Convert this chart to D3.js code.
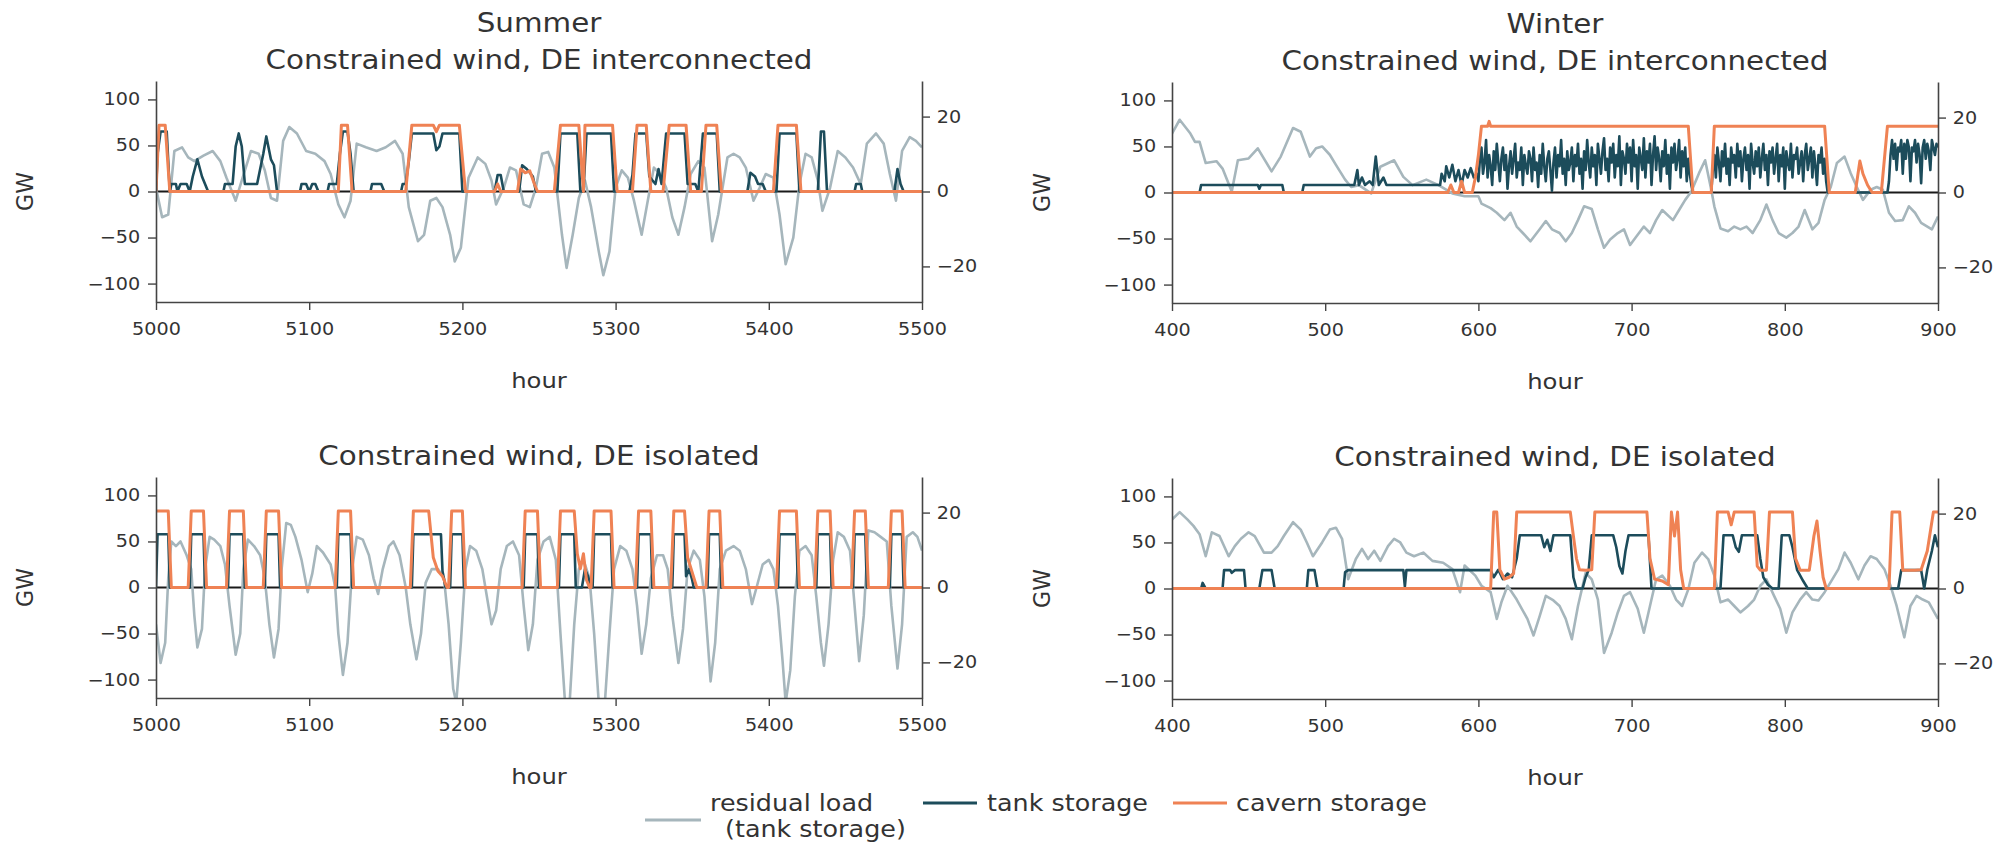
<!DOCTYPE html>
<html>
<head>
<meta charset="utf-8">
<script src="https://cdn.jsdelivr.net/npm/d3@7"></script>
<style>
  body { margin: 0; background: #fff; }
  svg text { font-family: "DejaVu Sans", Verdana, sans-serif; fill: #333; }
</style>
</head>
<body>
<svg id="chart" width="2013" height="850"></svg>
<script>
// axis ranges and ticks
const summerRange = [5000, 5500];
const winterRange = [400, 900];
const summerTicks = [5000, 5100, 5200, 5300, 5400, 5500];
const winterTicks = [400, 500, 600, 700, 800, 900];
const gwRange = [-120, 120];
const gwTicks = [-100, -50, 0, 50, 100];
const rightRange = [-29.5, 29.5];
const rightTicks = [-20, 0, 20];

const legendNames = ['residual load', '(tank storage)', 'tank storage', 'cavern storage'];

// Summer, interconnected  [hour, value]
const sumConResidual = [
  [5000,4],[5004,-28],[5008,-25],[5012,44],[5017,48],[5021,37],[5025,33],[5031,39],[5037,44],[5042,33],
  [5046,15],[5052,-10],[5056,12],[5062,44],[5067,41],[5071,23],[5075,-7],[5079,-10],[5083,55],[5087,70],
  [5092,63],[5098,44],[5104,41],[5110,33],[5114,19],[5119,-14],[5123,-28],[5127,-10],[5131,52],[5137,48],
  [5144,44],[5150,48],[5156,55],[5161,41],[5165,-17],[5171,-54],[5175,-47],[5179,-10],[5183,-7],[5187,-17],
  [5192,-47],[5195,-76],[5199,-61],[5204,15],[5210,37],[5215,30],[5219,12],[5222,-14],[5227,4],[5231,26],
  [5235,23],[5240,-14],[5244,-17],[5248,4],[5252,41],[5256,43],[5260,26],[5265,-47],[5268,-83],[5272,-47],
  [5276,-7],[5280,12],[5284,-17],[5289,-65],[5292,-91],[5296,-65],[5300,4],[5304,23],[5308,15],[5312,-10],
  [5317,-47],[5321,-10],[5325,26],[5329,19],[5333,4],[5337,-28],[5341,-47],[5345,-17],[5349,19],[5354,33],
  [5358,26],[5363,-54],[5367,-25],[5373,37],[5377,41],[5381,37],[5385,26],[5390,-10],[5394,4],[5398,19],
  [5403,15],[5407,-25],[5411,-79],[5416,-50],[5420,8],[5424,41],[5428,37],[5432,12],[5435,-21],[5440,4],
  [5445,44],[5450,37],[5455,26],[5460,8],[5464,52],[5470,63],[5475,52],[5479,19],[5483,-10],[5487,44],
  [5492,59],[5496,55],[5500,48]
];
const sumConTank = [
  [5000,0],[5001,10],[5003,16],[5007,16],[5009,0],[5010,2],[5013,2],[5014,0],[5016,2],[5020,2],[5022,0],
  [5024,4],[5027,8.6],[5030,4],[5032,2],[5034,0],[5044,0],[5045,2],[5050,2],[5052,12],[5054,15.5],[5056,12],
  [5058,2],[5066,2],[5070,10],[5072,14.7],[5075,8.6],[5077,7],[5079,0],[5094,0],[5095,2],[5098,2],[5100,0],
  [5102,2],[5104,2],[5106,0],[5112,0],[5113,2],[5118,2],[5120,10],[5122,16],[5125,16],[5127,10],[5129,0],
  [5140,0],[5141,2],[5147,2],[5149,0],[5160,0],[5161,2],[5163,2],[5165,8],[5167,15.5],[5181,15.5],[5183,11],
  [5185,12],[5187,15.5],[5198,15.5],[5200,0],[5221,0],[5223,4.4],[5225,4.4],[5227,0],[5237,0],[5239,7],
  [5242,6],[5246,4],[5248,0],[5262,0],[5264,15.5],[5275,15.5],[5277,0],[5279,0],[5281,15.5],[5297,15.5],
  [5299,0],[5309,0],[5311,4.4],[5313,15.5],[5320,15.5],[5322,4],[5326,2],[5328,6],[5330,2],[5333,15.5],
  [5345,15.5],[5347,2],[5352,2],[5354,0],[5357,15.5],[5366,15.5],[5368,0],[5386,0],[5388,5],[5391,4],
  [5393,2],[5396,2],[5398,0],[5405,0],[5407,15.5],[5418,15.5],[5420,0],[5432,0],[5434,16],[5436,16],
  [5438,0],[5456,0],[5457,2],[5460,2],[5461,0],[5482,0],[5484,6],[5486,2],[5488,0],[5500,0]
];
const sumConCavern = [
  [5000,0],[5002,17.7],[5006,17.7],[5009,0],[5119,0],[5121,17.7],[5125,17.7],[5128,0],[5163,0],[5167,17.7],
  [5181,17.7],[5183,16],[5185,17.7],[5198,17.7],[5202,0],[5221,0],[5223,2],[5225,0],[5236,0],[5238,6],
  [5241,5],[5244,5.5],[5247,2],[5249,0],[5260,0],[5264,17.7],[5276,17.7],[5279,0],[5280,17.7],[5298,17.7],
  [5301,0],[5311,0],[5314,17.7],[5320,17.7],[5323,0],[5331,0],[5335,17.7],[5346,17.7],[5349,0],[5356,0],
  [5359,17.7],[5366,17.7],[5369,0],[5403,0],[5406,17.7],[5418,17.7],[5421,0],[5500,0]
];

// Winter, interconnected
const winConResidual = [
  [400,64],[405,79],[412,64],[415,55],[418,55],[422,32],[429,34],[433,26],[439,1],[443,35],[450,37],
  [456,48],[465,23],[471,39],[479,70],[484,66],[490,39],[494,48],[498,50],[503,41],[507,30],[513,14],
  [517,6],[522,8],[530,-1],[536,28],[545,35],[551,17],[557,8],[566,14],[574,8],[583,-1],[591,-4],[600,-4],
  [602,-12],[608,-17],[612,-22],[617,-30],[621,-22],[625,-37],[629,-44],[634,-53],[640,-40],[644,-31],
  [648,-40],[653,-44],[657,-53],[661,-44],[665,-30],[669,-15],[674,-18],[678,-40],[682,-60],[686,-51],
  [691,-44],[695,-40],[699,-57],[703,-48],[708,-37],[712,-44],[716,-30],[720,-19],[727,-30],[731,-19],
  [735,-8],[739,1],[744,21],[748,35],[752,3],[754,-15],[758,-39],[763,-42],[767,-37],[771,-40],[775,-37],
  [779,-44],[784,-30],[788,-13],[792,-30],[796,-44],[801,-49],[805,-44],[809,-37],[813,-19],[818,-40],
  [822,-33],[826,-8],[830,6],[834,32],[839,39],[843,21],[847,6],[851,-8],[856,3],[860,6],[864,3],
  [868,-22],[872,-31],[877,-30],[881,-15],[885,-22],[889,-33],[896,-40],[900,-26]
];
// tank storage: quiet part as [hour, value], hourly bursts as plain values
const winConTankQuiet = [
  [400,0],[418,0],[419,2],[456,2],[457,1],[458,2],[472,2],[473,0],[485,0],[486,2],[519,2],[521,6],[522,2],
  [524,4],[526,2],[529,3],[531,2],[533,9.6],[535,2],[538,4],[540,2],[575,2],[576,5],[578,3],[579,7],[581,4],
  [583,7.4],[585,3],[587,6],[589,2],[591,6],[593,4],[595,6.5],[597,4],[599,5]
];
const winConBurst1Start = 600;
const winConBurst1 = [
  3,9,12,5,8,14,4,10,7,2,11,6,13,8,3,9,12,6,10,1,
  7,11,5,9,13,4,8,6,12,2,10,7,5,11,9,3,12,6,8,1.5,
  10,5,13,7,3,9,11,6,0.5,8,12,4,10,7,14,5,9,2,11,6,
  8,12,3,10,7,13,5,9,1,11,6,14,8,4,12,7,10,2,13,9,
  5,11,14.5,6,9,3,12,8,13,4,10,7,15,2,11,9,5,13,8,12,
  3,14,7,10,1,12,9,6,14.5,4,11,8,13,2,10,15,6,12,9,3,
  11,7,14,5,10,1,12,8,13,6,9,14,4,11,7,12,3,9,5,2,0
];
const winConBurst2Start = 752;
const winConBurst2 = [
  0,6,10,4,12,8,3,11,7,13,5,9,2,12,8,10,4,13,7,11,
  3,9,12,6,10,1,13,8,5,11,7,12,4,9,13,6,10,2,11,8,
  12,5,9,13,3,10,7,12,1,11,8,6,13,4,10,9,12,5,8,11,
  3,10,13,6,9,12,4,11,7,2,10,8,12,5,9,3,0
];
const winConBurst3Start = 867;
const winConBurst3 = [
  0,3,10,14,9,13,6,12,11,14,5,13,9,14,12,3,12,11,14,8,13,
  10,2.5,12,14,9,13,11,6,14,12,10,13,12
];
const winConCavern = [
  [400,0],[580,0],[582,2],[584,0],[587,0],[589,3],[591,0],[596,0],[598,4],[600,10],[602,17.7],[606,17.7],
  [607,19],[608,17.7],[737,17.7],[740,0],[752,0],[754,17.7],[826,17.7],[829,0],[846,0],[849,8.4],[851,5],
  [854,2],[857,0],[863,0],[867,17.7],[900,17.7]
];

// Summer, isolated
const sumIsoResidual = [
  [5000,-40],[5003,-82],[5006,-60],[5008,10],[5010,50],[5013,45],[5016,50],[5020,35],[5023,20],[5025,-30],
  [5027,-65],[5030,-45],[5032,20],[5035,55],[5038,52],[5042,45],[5045,25],[5048,-20],[5052,-73],[5055,-50],
  [5057,20],[5060,52],[5064,45],[5068,35],[5071,10],[5074,-40],[5077,-76],[5080,-45],[5082,20],[5085,70],
  [5088,68],[5091,55],[5095,30],[5099,-5],[5102,15],[5105,45],[5109,38],[5114,25],[5117,0],[5119,-50],
  [5122,-95],[5125,-60],[5128,20],[5131,55],[5135,52],[5139,35],[5142,10],[5145,-7],[5148,20],[5152,45],
  [5155,50],[5159,35],[5163,0],[5166,-40],[5170,-78],[5173,-50],[5176,5],[5180,20],[5184,20],[5188,10],
  [5191,-40],[5194,-110],[5196,-125],[5199,-60],[5202,20],[5205,45],[5209,40],[5213,20],[5216,-10],
  [5219,-40],[5222,-25],[5225,20],[5229,45],[5233,50],[5237,35],[5240,-20],[5243,-68],[5246,-40],[5249,30],
  [5253,50],[5257,55],[5261,30],[5264,-50],[5267,-125],[5270,-125],[5273,-40],[5276,20],[5279,30],
  [5283,10],[5286,-50],[5289,-125],[5293,-125],[5296,-50],[5299,20],[5303,45],[5307,40],[5311,20],
  [5314,-20],[5317,-72],[5320,-40],[5323,10],[5327,35],[5331,35],[5334,20],[5337,-30],[5341,-82],
  [5344,-45],[5347,20],[5351,40],[5355,30],[5358,-10],[5362,-102],[5365,-60],[5368,20],[5372,40],
  [5377,45],[5381,40],[5385,20],[5389,-18],[5392,0],[5396,25],[5400,30],[5403,20],[5406,-20],[5409,-80],
  [5411,-125],[5414,-90],[5417,-10],[5420,40],[5424,45],[5428,35],[5431,-10],[5434,-60],[5436,-85],
  [5439,-40],[5442,30],[5445,60],[5449,55],[5453,40],[5456,-20],[5459,-80],[5462,-30],[5465,62],[5469,60],
  [5473,55],[5477,50],[5480,-20],[5484,-88],[5487,-40],[5490,55],[5494,60],[5497,55],[5500,40]
];
const sumIsoTank = [
  [5000,0],[5001,14.2],[5008,14.2],[5009,0],[5022,0],[5023,14.2],[5031,14.2],[5032,0],[5047,0],[5048,14.2],
  [5057,14.2],[5058,0],[5071,0],[5072,14.2],[5080,14.2],[5081,0],[5118,0],[5119,14.2],[5127,14.2],[5128,0],
  [5167,0],[5168,14.2],[5186,14.2],[5187,4.4],[5189,0],[5192,0],[5193,14.2],[5200,14.2],[5201,0],
  [5240,0],[5241,14.2],[5249,14.2],[5250,0],[5263,0],[5264,14.2],[5273,14.2],[5274,0],[5278,0],[5280,4.9],
  [5282,3],[5284,0],[5285,0],[5286,14.2],[5297,14.2],[5298,0],[5314,0],[5315,14.2],[5323,14.2],[5324,0],
  [5337,0],[5338,14.2],[5345,14.2],[5346,3],[5348,4.9],[5350,2],[5351,0],[5360,0],[5361,14.2],[5368,14.2],
  [5369,0],[5406,0],[5407,14.2],[5418,14.2],[5419,0],[5431,0],[5432,14.2],[5440,14.2],[5441,0],[5455,0],
  [5456,14.2],[5463,14.2],[5464,0],[5479,0],[5480,14.2],[5487,14.2],[5488,0],[5500,0]
];
const sumIsoCavern = [
  [5000,20.4],[5008,20.4],[5010,0],[5021,0],[5023,20.4],[5031,20.4],[5033,0],[5046,0],[5048,20.4],
  [5057,20.4],[5059,0],[5070,0],[5072,20.4],[5080,20.4],[5082,0],[5117,0],[5119,20.4],[5127,20.4],
  [5129,0],[5166,0],[5168,20.4],[5178,20.4],[5181,8],[5184,4.4],[5187,3],[5190,0],[5191,0],[5193,20.4],
  [5200,20.4],[5202,0],[5239,0],[5241,20.4],[5249,20.4],[5251,0],[5262,0],[5264,20.4],[5273,20.4],
  [5275,9],[5277,5],[5279,9],[5281,2],[5283,0],[5284,0],[5286,20.4],[5297,20.4],[5299,0],[5313,0],
  [5315,20.4],[5323,20.4],[5325,0],[5336,0],[5338,20.4],[5345,20.4],[5347,8],[5350,4],[5353,0],[5359,0],
  [5361,20.4],[5368,20.4],[5370,0],[5405,0],[5407,20.4],[5418,20.4],[5420,0],[5430,0],[5432,20.4],
  [5440,20.4],[5442,0],[5454,0],[5456,20.4],[5463,20.4],[5465,0],[5478,0],[5480,20.4],[5487,20.4],
  [5489,0],[5500,0]
];

// Winter, isolated
const winIsoResidual = [
  [400,75],[405,83],[410,75],[414,68],[418,59],[422,35],[426,61],[431,57],[437,35],[441,46],[445,54],
  [450,61],[454,57],[460,39],[465,39],[469,46],[473,57],[479,72],[484,64],[488,50],[492,35],[498,50],
  [503,64],[507,66],[511,54],[515,10],[520,32],[524,43],[528,32],[532,41],[536,30],[541,46],[545,54],
  [549,50],[553,39],[558,35],[564,39],[570,30],[577,28],[583,21],[588,-4],[591,25],[598,14],[602,3],
  [608,-4],[612,-33],[615,-15],[619,3],[625,-12],[632,-33],[636,-51],[640,-30],[644,-8],[649,-13],
  [653,-19],[657,-33],[661,-55],[665,-19],[670,17],[674,10],[678,-12],[682,-70],[687,-48],[691,-26],
  [695,-8],[699,-4],[704,-22],[708,-48],[712,-19],[716,10],[720,14],[725,3],[729,-12],[733,-19],[737,-1],
  [741,28],[746,39],[750,32],[754,14],[758,-15],[763,-12],[767,-19],[771,-26],[776,-19],[780,-12],[784,3],
  [788,10],[793,-8],[797,-22],[801,-48],[805,-26],[810,-12],[814,-4],[818,-12],[822,-13],[826,-4],
  [831,10],[835,21],[839,39],[843,28],[848,10],[852,25],[856,35],[860,32],[865,21],[869,3],[873,-19],
  [878,-53],[882,-19],[886,-8],[890,-12],[894,-15],[900,-33]
];
const winIsoTank = [
  [400,0],[419,0],[420,1.5],[422,0],[433,0],[434,4.9],[438,4.9],[439,4.2],[441,4.9],[447,4.9],[448,0],
  [457,0],[459,4.9],[465,4.9],[467,0],[488,0],[489,4.9],[493,4.9],[495,0],[512,0],[513,4.4],[515,4.9],
  [551,4.9],[552,0.5],[553,4.9],[608,4.9],[610,3],[613,5],[616,2.5],[619,4],[622,3],[625,8],[627,14.2],
  [641,14.2],[643,11],[645,13],[647,10],[649,14.2],[660,14.2],[662,3],[664,0],[668,0],[670,3],[672,5],
  [674,14.2],[688,14.2],[690,11],[692,6],[694,4],[696,10],[698,14.2],[711,14.2],[713,0],[758,0],
  [760,14.2],[766,14.2],[768,11],[770,9.8],[772,14.2],[782,14.2],[784,8],[786,3],[789,1],[792,0],
  [796,0],[798,14.2],[803,14.2],[805,11],[808,5],[812,2],[815,0],[874,0],[876,4.9],[889,4.9],[891,0],
  [893,5],[896,10],[898,14.2],[900,11]
];
const winIsoCavern = [
  [400,0],[608,0],[610,20.4],[612,20.4],[614,5],[617,2.5],[620,3],[623,4],[625,20.4],[660,20.4],[662,14],
  [664,8],[666,5],[670,4.9],[674,5],[676,20.4],[710,20.4],[712,8],[715,2.5],[720,2],[724,1],[726,20.4],
  [728,14],[730,20.4],[732,5],[734,0],[754,0],[756,20.4],[763,20.4],[765,17],[767,20.4],[780,20.4],
  [782,6],[784,4.9],[788,4.9],[790,20.4],[805,20.4],[807,8],[810,4.9],[816,4.9],[819,14],[821,18],
  [823,10],[825,3],[827,0],[868,0],[870,20.4],[875,20.4],[877,4.9],[885,4.9],[889,5],[893,10],[897,20.4],
  [900,20.4]
];

const hourly = (start, vals) => vals.map((v, k) => [start + k, v]);
const winConTank = winConTankQuiet
  .concat(hourly(winConBurst1Start, winConBurst1))
  .concat(hourly(winConBurst2Start, winConBurst2))
  .concat(hourly(winConBurst3Start, winConBurst3));

const colResidual = '#a6b6bc';
const colTank = '#1c4c5b';
const colCavern = '#ef8254';
const sx = 1.13;   // the picture's lettering is a bit wider than DejaVu

const panels = [
  { titles: ['Summer', 'Constrained wind, DE interconnected'], range: summerRange, ticks: summerTicks,
    x0: 156, x1: 922, y0: 81, y1: 302, gwX: 25, data: [sumConResidual, sumConTank, sumConCavern] },
  { titles: ['Winter', 'Constrained wind, DE interconnected'], range: winterRange, ticks: winterTicks,
    x0: 1172, x1: 1938, y0: 82, y1: 303, gwX: 1042, data: [winConResidual, winConTank, winConCavern] },
  { titles: ['Constrained wind, DE isolated'], range: summerRange, ticks: summerTicks,
    x0: 156, x1: 922, y0: 477, y1: 698, gwX: 25, data: [sumIsoResidual, sumIsoTank, sumIsoCavern] },
  { titles: ['Constrained wind, DE isolated'], range: winterRange, ticks: winterTicks,
    x0: 1172, x1: 1938, y0: 478, y1: 699, gwX: 1042, data: [winIsoResidual, winIsoTank, winIsoCavern] }
];

const svg = d3.select('#chart');
svg.append('rect').attr('width', 2013).attr('height', 850).attr('fill', '#fff');

// stretched text helper
function label(g, x, y, txt, size, anchor) {
  return g.append('text')
    .attr('transform', `scale(${sx},1)`)
    .attr('x', x / sx).attr('y', y)
    .attr('text-anchor', anchor || 'start')
    .attr('font-size', size)
    .text(txt);
}

panels.forEach((p, i) => {
  const x = d3.scaleLinear().domain(p.range).range([p.x0, p.x1]);
  const yL = d3.scaleLinear().domain(gwRange).range([p.y1, p.y0]);
  const yR = d3.scaleLinear().domain(rightRange).range([p.y1, p.y0]);
  const g = svg.append('g');

  g.append('clipPath').attr('id', 'clip' + i)
    .append('rect')
    .attr('x', p.x0).attr('y', p.y0)
    .attr('width', p.x1 - p.x0).attr('height', p.y1 - p.y0);

  // zero line under the traces
  g.append('line')
    .attr('x1', p.x0).attr('x2', p.x1)
    .attr('y1', yL(0)).attr('y2', yL(0))
    .attr('stroke', '#1a1a1a').attr('stroke-width', 2);

  const plot = g.append('g').attr('clip-path', `url(#clip${i})`);
  const lineL = d3.line().x(d => x(d[0])).y(d => yL(d[1]));
  const lineR = d3.line().x(d => x(d[0])).y(d => yR(d[1]));

  plot.append('path').attr('d', lineL(p.data[0]))
    .attr('fill', 'none').attr('stroke', colResidual).attr('stroke-width', 2.6)
    .attr('stroke-linejoin', 'round');
  plot.append('path').attr('d', lineR(p.data[1]))
    .attr('fill', 'none').attr('stroke', colTank).attr('stroke-width', 2.6)
    .attr('stroke-linejoin', 'round');
  plot.append('path').attr('d', lineR(p.data[2]))
    .attr('fill', 'none').attr('stroke', colCavern).attr('stroke-width', 3)
    .attr('stroke-linejoin', 'round');

  // axes
  const ax = g.append('g').attr('transform', `translate(0,${p.y1})`)
    .call(d3.axisBottom(x).tickValues(p.ticks).tickFormat(d3.format('d'))
      .tickSize(8).tickSizeOuter(0).tickPadding(13));
  const al = g.append('g').attr('transform', `translate(${p.x0},0)`)
    .call(d3.axisLeft(yL).tickValues(gwTicks).tickSize(8).tickSizeOuter(0).tickPadding(6));
  const ar = g.append('g').attr('transform', `translate(${p.x1},0)`)
    .call(d3.axisRight(yR).tickValues(rightTicks).tickSize(8).tickSizeOuter(0).tickPadding(5));

  [ax, al, ar].forEach(a => {
    a.select('.domain').attr('stroke', '#444').attr('stroke-width', 1.6);
    a.selectAll('.tick line').attr('stroke', '#444').attr('stroke-width', 1.4);
    a.selectAll('.tick text').attr('font-size', 17).attr('fill', '#444')
      .attr('font-family', '"DejaVu Sans", Verdana, sans-serif')
      .attr('transform', `scale(${sx},1)`);
  });

  // titles
  const cx = (p.x0 + p.x1) / 2;
  const n = p.titles.length;
  p.titles.forEach((t, k) => {
    label(g, cx, p.y0 - 12 - (n - 1 - k) * 37, t, 26, 'middle');
  });

  label(g, cx, p.y1 + 86, 'hour', 21.5, 'middle');

  g.append('text')
    .attr('transform', `translate(${p.gwX + 8},${(p.y0 + p.y1) / 2}) rotate(-90) scale(1.05,${sx})`)
    .attr('text-anchor', 'middle').attr('font-size', 21)
    .text('GW');
});

// legend
const legend = svg.append('g');
legend.append('line').attr('x1', 645).attr('x2', 701).attr('y1', 820).attr('y2', 820)
  .attr('stroke', colResidual).attr('stroke-width', 3);
label(legend, 710, 811, legendNames[0], 22.5);
label(legend, 725, 837, legendNames[1], 22.5);
legend.append('line').attr('x1', 923).attr('x2', 977).attr('y1', 803).attr('y2', 803)
  .attr('stroke', colTank).attr('stroke-width', 3);
label(legend, 987, 811, legendNames[2], 22.5);
legend.append('line').attr('x1', 1173).attr('x2', 1227).attr('y1', 803).attr('y2', 803)
  .attr('stroke', colCavern).attr('stroke-width', 3);
label(legend, 1236, 811, legendNames[3], 22.5);
</script>
</body>
</html>
